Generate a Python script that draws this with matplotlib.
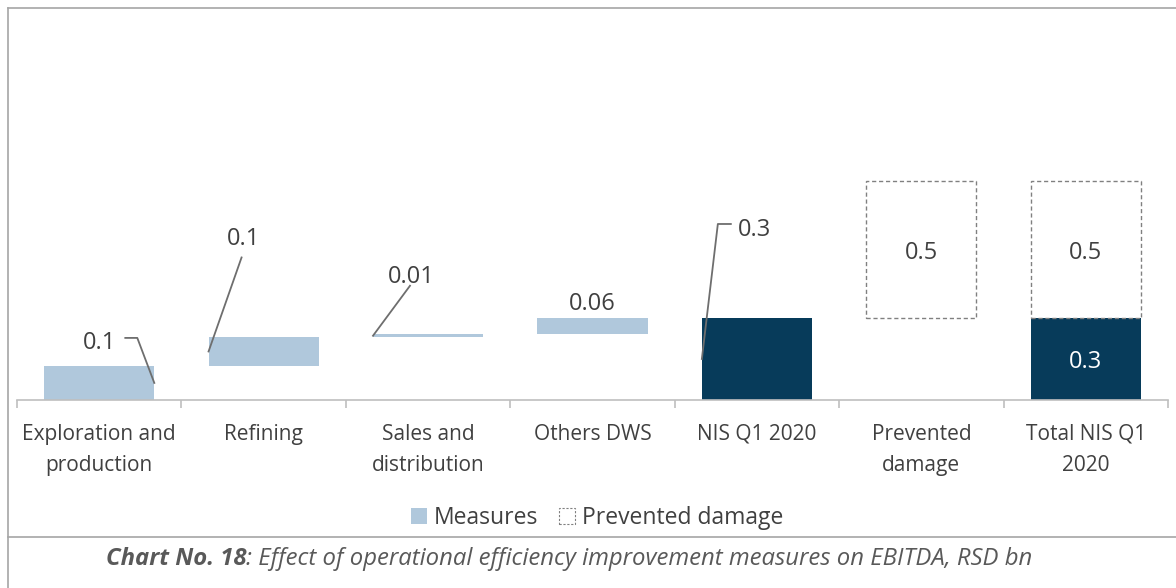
import matplotlib
matplotlib.use("Agg")
from matplotlib import pyplot as plt
from matplotlib.patches import Patch
from matplotlib.lines import Line2D
from matplotlib import transforms

plt.rcParams['font.family'] = ['Open Sans', 'DejaVu Sans']

# 数据
categories = ['Exploration and\nproduction', 'Refining', 'Sales and\ndistribution',
              'Others DWS', 'NIS Q1 2020', 'Prevented\ndamage', 'Total NIS Q1\n2020']
measures = [0.125, 0.105, 0.01, 0.06]
measure_labels = ['0.1', '0.1', '0.01', '0.06']
nis_total = 0.3
nis_label = '0.3'
prevented = 0.5
prevented_label = '0.5'

light = '#B0C8DC'
dark = '#073B5A'
txt = '#404040'
grid_gray = '#BFBFBF'
frame_gray = '#A6A6A6'

fig = plt.figure(figsize=(11.76, 5.88), dpi=100)
ax = fig.add_axes([17 / 1176, 1 - 400 / 588, (1168 - 17) / 1176, (400 - 20) / 588])

w = 0.67
# 瀑布图：各项措施累加
bottoms = []
acc = 0
for v in measures:
    bottoms.append(acc)
    acc += v
xs = list(range(len(measures)))
ax.bar(xs, measures, bottom=bottoms, width=w, color=light, zorder=2)

# NIS 合计
ax.bar(4, nis_total, width=w, color=dark, zorder=2)
# 避免的损失（虚线框）
ax.bar(5, prevented, bottom=nis_total, width=w, facecolor='none',
       edgecolor='#808080', linestyle=(0, (3, 2)), linewidth=1.0, zorder=2)
# 总计
ax.bar(6, nis_total, width=w, color=dark, zorder=2)
ax.bar(6, prevented, bottom=nis_total, width=w, facecolor='none',
       edgecolor='#808080', linestyle=(0, (3, 2)), linewidth=1.0, zorder=2)

ax.set_xlim(-0.5, 6.5)
ax.set_ylim(0, 1.39)
fs_lbl = 17
VA = 'center_baseline'


def off(dx, dy):
    return transforms.offset_copy(ax.transData, fig=fig, x=dx, y=dy, units='dots')


def leader(x, y, pts, text_xy, label):
    """从柱子引出标签线，pts 为相对锚点的像素偏移"""
    px = [p[0] for p in pts]
    py = [p[1] for p in pts]
    base = ax.transData.transform((x, y))
    line = Line2D(px, py, color='#6E6E6E', lw=1.3,
                  transform=transforms.Affine2D().translate(*base))
    fig.add_artist(line)
    ax.text(x, y, label, transform=off(*text_xy), ha='center', va=VA,
            fontsize=fs_lbl, color=txt)


leader(0 + w / 2, measures[0] / 2, [(0, 0), (-17, 45), (-29, 45)], (-55, 43), measure_labels[0])
leader(1 - w / 2, bottoms[1] + measures[1] / 2, [(0, 0), (33, 94)], (35, 115), measure_labels[1])
leader(2 - w / 2, bottoms[2] + measures[2] / 2, [(0, 0), (37, 50)], (38, 62), measure_labels[2])
ax.text(3, bottoms[3] + measures[3], measure_labels[3], transform=off(0, 17),
        ha='center', va=VA, fontsize=fs_lbl, color=txt)
leader(4 - w / 2, nis_total / 2, [(0, 0), (16, 135), (29, 135)], (53, 132), nis_label)

ax.text(5, nis_total + prevented / 2, prevented_label, ha='center', va=VA,
        fontsize=fs_lbl, color=txt)
ax.text(6, nis_total + prevented / 2, prevented_label, ha='center', va=VA,
        fontsize=fs_lbl, color=txt)
ax.text(6, nis_total / 2, nis_label, ha='center', va=VA,
        fontsize=fs_lbl, color='white')

# 坐标轴
for s in ['top', 'left', 'right']:
    ax.spines[s].set_visible(False)
ax.spines['bottom'].set_color(grid_gray)
ax.spines['bottom'].set_linewidth(1.2)
ax.set_yticks([])
ax.set_xticks(range(len(categories)))
ax.set_xticklabels(categories, fontsize=15, color=txt, linespacing=1.62)
ax.tick_params(axis='x', which='major', length=0, pad=17)
ax.set_xticks([i - 0.5 for i in range(len(categories) + 1)], minor=True)
ax.tick_params(axis='x', which='minor', length=6, width=1.2, color=grid_gray)

# 图例
handles = [Patch(facecolor=light, edgecolor='none', label='Measures'),
           Patch(facecolor='none', edgecolor='#808080', linestyle=(0, (2, 1.5)),
                 linewidth=0.8, label='Prevented damage')]
fig.legend(handles=handles, loc='center', bbox_to_anchor=(597 / 1176, 1 - 518 / 588),
           ncol=2, frameon=False, fontsize=16.5, handlelength=0.7, handleheight=0.7,
           handletextpad=0.3, columnspacing=0.9, labelcolor=txt)

# 外框与分隔线
fig.add_artist(Line2D([7.5 / 1176, 7.5 / 1176], [0, 1 - 8 / 588], color=frame_gray, lw=1.2))
fig.add_artist(Line2D([7.5 / 1176, 1], [1 - 8 / 588, 1 - 8 / 588], color=frame_gray, lw=1.2))
fig.add_artist(Line2D([7.5 / 1176, 1], [1 - 537 / 588, 1 - 537 / 588], color=frame_gray, lw=1.2))

# 图表标题
cap_y = 1 - 559 / 588
t1 = fig.text(0, cap_y, 'Chart No. 18', fontsize=17.2, style='italic', weight='bold',
              color='#595959', va='center')
t2 = fig.text(0, cap_y, ': Effect of operational efficiency improvement measures on EBITDA, RSD bn',
              fontsize=17.2, style='italic', color='#595959', va='center')
r = fig.canvas.get_renderer()
w1 = t1.get_window_extent(r).width
w2 = t2.get_window_extent(r).width
x0 = (569 - (w1 + w2) / 2)
t1.set_x(x0 / 1176)
t2.set_x((x0 + w1) / 1176)

fig.savefig('out.png', dpi=100)
